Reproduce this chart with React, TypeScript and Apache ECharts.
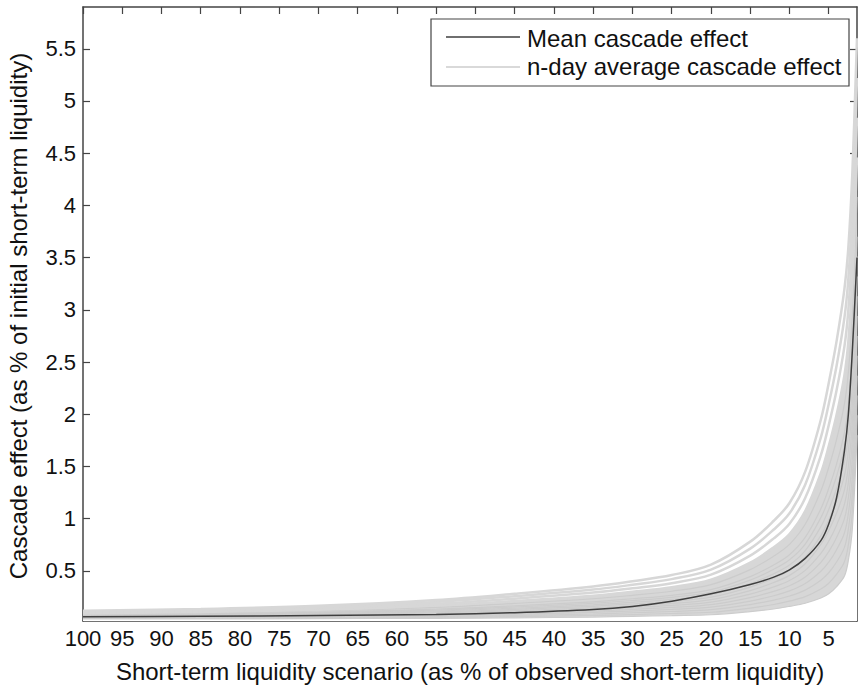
import React, { useEffect, useRef } from "react";
import * as echarts from "echarts";

// x: short-term liquidity scenario (% of observed)
const xs = [100, 85, 70, 55, 45, 35, 30, 25, 20, 15, 12, 10, 8, 6, 5, 4, 3, 2.5, 2, 1.4];

// mean cascade effect
const meanEffect = [0.06, 0.065, 0.072, 0.083, 0.1, 0.13, 0.16, 0.21, 0.28, 0.37, 0.44, 0.51, 0.62, 0.79, 0.95, 1.2, 1.65, 2.0, 2.6, 3.5];

const nDay01 = [0.04, 0.04, 0.042, 0.046, 0.05, 0.058, 0.065, 0.072, 0.08, 0.11, 0.135, 0.16, 0.19, 0.24, 0.28, 0.35, 0.45, 0.6, 0.9, 1.8];
const nDay02 = [0.044, 0.045, 0.048, 0.055, 0.062, 0.073, 0.082, 0.092, 0.104, 0.144, 0.178, 0.21, 0.253, 0.326, 0.381, 0.468, 0.588, 0.75, 1.07, 1.99];
const nDay03 = [0.048, 0.05, 0.054, 0.063, 0.073, 0.087, 0.099, 0.111, 0.128, 0.177, 0.22, 0.259, 0.316, 0.411, 0.482, 0.585, 0.725, 0.9, 1.24, 2.18];
const nDay04 = [0.052, 0.055, 0.061, 0.072, 0.085, 0.102, 0.116, 0.131, 0.152, 0.21, 0.262, 0.308, 0.379, 0.497, 0.583, 0.703, 0.863, 1.05, 1.41, 2.37];
const nDay05 = [0.055, 0.059, 0.067, 0.081, 0.096, 0.116, 0.132, 0.15, 0.176, 0.244, 0.304, 0.358, 0.442, 0.582, 0.684, 0.82, 1.0, 1.2, 1.58, 2.56];
const nDay06 = [0.059, 0.064, 0.073, 0.09, 0.108, 0.131, 0.149, 0.169, 0.2, 0.278, 0.347, 0.408, 0.505, 0.668, 0.785, 0.938, 1.138, 1.35, 1.75, 2.75];
const nDay07 = [0.063, 0.069, 0.079, 0.098, 0.119, 0.146, 0.166, 0.188, 0.224, 0.311, 0.389, 0.457, 0.568, 0.753, 0.886, 1.055, 1.275, 1.5, 1.92, 2.94];
const nDay08 = [0.067, 0.074, 0.085, 0.107, 0.131, 0.161, 0.183, 0.208, 0.248, 0.345, 0.431, 0.507, 0.631, 0.839, 0.987, 1.173, 1.413, 1.65, 2.09, 3.13];
const nDay09 = [0.07, 0.078, 0.091, 0.116, 0.142, 0.175, 0.199, 0.227, 0.272, 0.378, 0.473, 0.556, 0.694, 0.924, 1.088, 1.29, 1.55, 1.8, 2.26, 3.32];
const nDay10 = [0.074, 0.083, 0.098, 0.125, 0.154, 0.19, 0.216, 0.247, 0.296, 0.412, 0.516, 0.606, 0.757, 1.01, 1.189, 1.408, 1.688, 1.95, 2.43, 3.51];
const nDay11 = [0.078, 0.088, 0.104, 0.133, 0.165, 0.204, 0.233, 0.266, 0.32, 0.445, 0.558, 0.655, 0.82, 1.095, 1.29, 1.525, 1.825, 2.1, 2.6, 3.7];
const nDay12 = [0.085, 0.097, 0.116, 0.15, 0.188, 0.233, 0.266, 0.305, 0.368, 0.512, 0.642, 0.754, 0.946, 1.266, 1.492, 1.76, 2.1, 2.4, 2.94, 4.08];
const nDay13 = [0.093, 0.107, 0.128, 0.168, 0.211, 0.262, 0.3, 0.344, 0.416, 0.579, 0.727, 0.853, 1.072, 1.437, 1.694, 1.995, 2.375, 2.7, 3.28, 4.46];
const nDay14 = [0.1, 0.116, 0.14, 0.185, 0.234, 0.292, 0.333, 0.382, 0.464, 0.646, 0.811, 0.952, 1.198, 1.608, 1.896, 2.23, 2.65, 3.0, 3.62, 4.84];
const nDay15 = [0.108, 0.126, 0.153, 0.203, 0.257, 0.321, 0.367, 0.421, 0.512, 0.713, 0.896, 1.051, 1.324, 1.779, 2.098, 2.465, 2.925, 3.3, 3.96, 5.22];
const nDay16 = [0.118, 0.135, 0.165, 0.22, 0.28, 0.35, 0.4, 0.46, 0.56, 0.78, 0.98, 1.15, 1.45, 1.95, 2.3, 2.7, 3.2, 3.6, 4.3, 5.6];

const nDayCurves = [nDay01, nDay02, nDay03, nDay04, nDay05, nDay06, nDay07, nDay08, nDay09, nDay10, nDay11, nDay12, nDay13, nDay14, nDay15, nDay16];

const xTicks = [100, 95, 90, 85, 80, 75, 70, 65, 60, 55, 50, 45, 40, 35, 30, 25, 20, 15, 10, 5];
const yTicks = [0.5, 1, 1.5, 2, 2.5, 3, 3.5, 4, 4.5, 5, 5.5];

const meanName = "Mean cascade effect";
const nDayName = "n-day average cascade effect";
const xTitle = "Short-term liquidity scenario (as % of observed short-term liquidity)";
const yTitle = "Cascade effect (as % of initial short-term liquidity)";

const FONT = '"Liberation Sans", Arial, Helvetica, sans-serif';
const FRAME = "#444";
const BAND_FILL = "#d7d7d7";
const BAND_LINE = "#cccccc";
const MEAN = "#3f3f3f";
const SMOOTH = 0.35;

export default function App() {
  const ref = useRef<HTMLDivElement>(null);
  useEffect(() => {
    document.body.style.margin = "0";
    const chart = echarts.init(ref.current!, null, { renderer: "svg" });
    const toPts = (arr: number[]) => xs.map((x, i) => [x, arr[i]]);
    const axisCommon = {
      type: "value" as const,
      splitLine: { show: false },
      axisLine: { show: true, onZero: false, lineStyle: { color: FRAME, width: 1.5 } },
    };
    // dense part of the band: grey area under nDay13, white area under the lowest curve
    const series: any[] = [
      {
        name: "bandUpperFill",
        type: "line",
        data: toPts(nDay13),
        symbol: "none",
        smooth: SMOOTH,
        lineStyle: { width: 0, opacity: 0 },
        areaStyle: { color: BAND_FILL, opacity: 1, origin: "start" },
        silent: true,
        z: 1,
      },
      {
        name: "bandLowerMask",
        type: "line",
        data: toPts(nDay01),
        symbol: "none",
        smooth: SMOOTH,
        lineStyle: { width: 0, opacity: 0 },
        areaStyle: { color: "#ffffff", opacity: 1, origin: "start" },
        silent: true,
        z: 1,
      },
    ];
    nDayCurves.forEach((c, k) => {
      series.push({
        name: nDayName,
        type: "line",
        data: toPts(c),
        symbol: "none",
        smooth: SMOOTH,
        lineStyle: { color: k >= 12 ? BAND_FILL : BAND_LINE, width: k >= 12 ? 2.5 : 1.2 },
        silent: true,
        z: 2,
      });
    });
    series.push({
      name: meanName,
      type: "line",
      data: toPts(meanEffect),
      symbol: "none",
      smooth: SMOOTH,
      lineStyle: { color: MEAN, width: 1.5 },
      z: 3,
    });
    const txt = (text: string, x: number, y: number, align: string, rotation = 0) => ({
      type: "text",
      x,
      y,
      rotation,
      z: 100,
      style: { text, fontSize: 24, fontFamily: FONT, fill: "#111", align, verticalAlign: "middle" },
    });
    chart.setOption({
      animation: false,
      backgroundColor: "#fff",
      grid: { left: 83, right: 1, top: 7, bottom: 64, containLabel: false },
      xAxis: [
        {
          ...axisCommon,
          position: "bottom",
          min: 1.4,
          max: 100,
          inverse: true,
          axisTick: { show: true, inside: true, length: 7, customValues: xTicks, lineStyle: { color: FRAME, width: 1.2 } },
          axisLabel: { show: true, customValues: xTicks, margin: 6, fontSize: 22, fontFamily: FONT, color: "#111" },
        },
        {
          ...axisCommon,
          position: "top",
          min: 1.4,
          max: 100,
          inverse: true,
          axisTick: { show: true, inside: true, length: 7, customValues: xTicks, lineStyle: { color: FRAME, width: 1.2 } },
          axisLabel: { show: false },
        },
      ],
      yAxis: [
        {
          ...axisCommon,
          position: "left",
          min: 0.02,
          max: 5.9,
          axisTick: { show: true, inside: true, length: 7, customValues: yTicks, lineStyle: { color: FRAME, width: 1.2 } },
          axisLabel: { show: true, customValues: yTicks, margin: 7, fontSize: 22, fontFamily: FONT, color: "#111" },
        },
        {
          ...axisCommon,
          position: "right",
          min: 0.02,
          max: 5.9,
          axisTick: { show: true, inside: true, length: 7, customValues: yTicks, lineStyle: { color: FRAME, width: 1.2 } },
          axisLabel: { show: false },
        },
      ],
      series,
      graphic: [
        txt(xTitle, 470, 671, "center"),
        txt(yTitle, 18, 316, "center", Math.PI / 2),
        {
          type: "rect",
          z: 100,
          shape: { x: 431, y: 19, width: 418, height: 67 },
          style: { fill: "#fff", stroke: FRAME, lineWidth: 1.2 },
        },
        {
          type: "line",
          z: 101,
          shape: { x1: 446, y1: 37, x2: 520, y2: 37 },
          style: { stroke: MEAN, lineWidth: 1.5 },
        },
        { ...txt(meanName, 527, 38, "left"), z: 101 },
        {
          type: "line",
          z: 101,
          shape: { x1: 446, y1: 67, x2: 520, y2: 67 },
          style: { stroke: BAND_LINE, lineWidth: 1.5 },
        },
        { ...txt(nDayName, 527, 66, "left"), z: 101 },
      ],
    });
    return () => chart.dispose();
  }, []);
  return <div ref={ref} style={{ width: 858, height: 685 }} />;
}
